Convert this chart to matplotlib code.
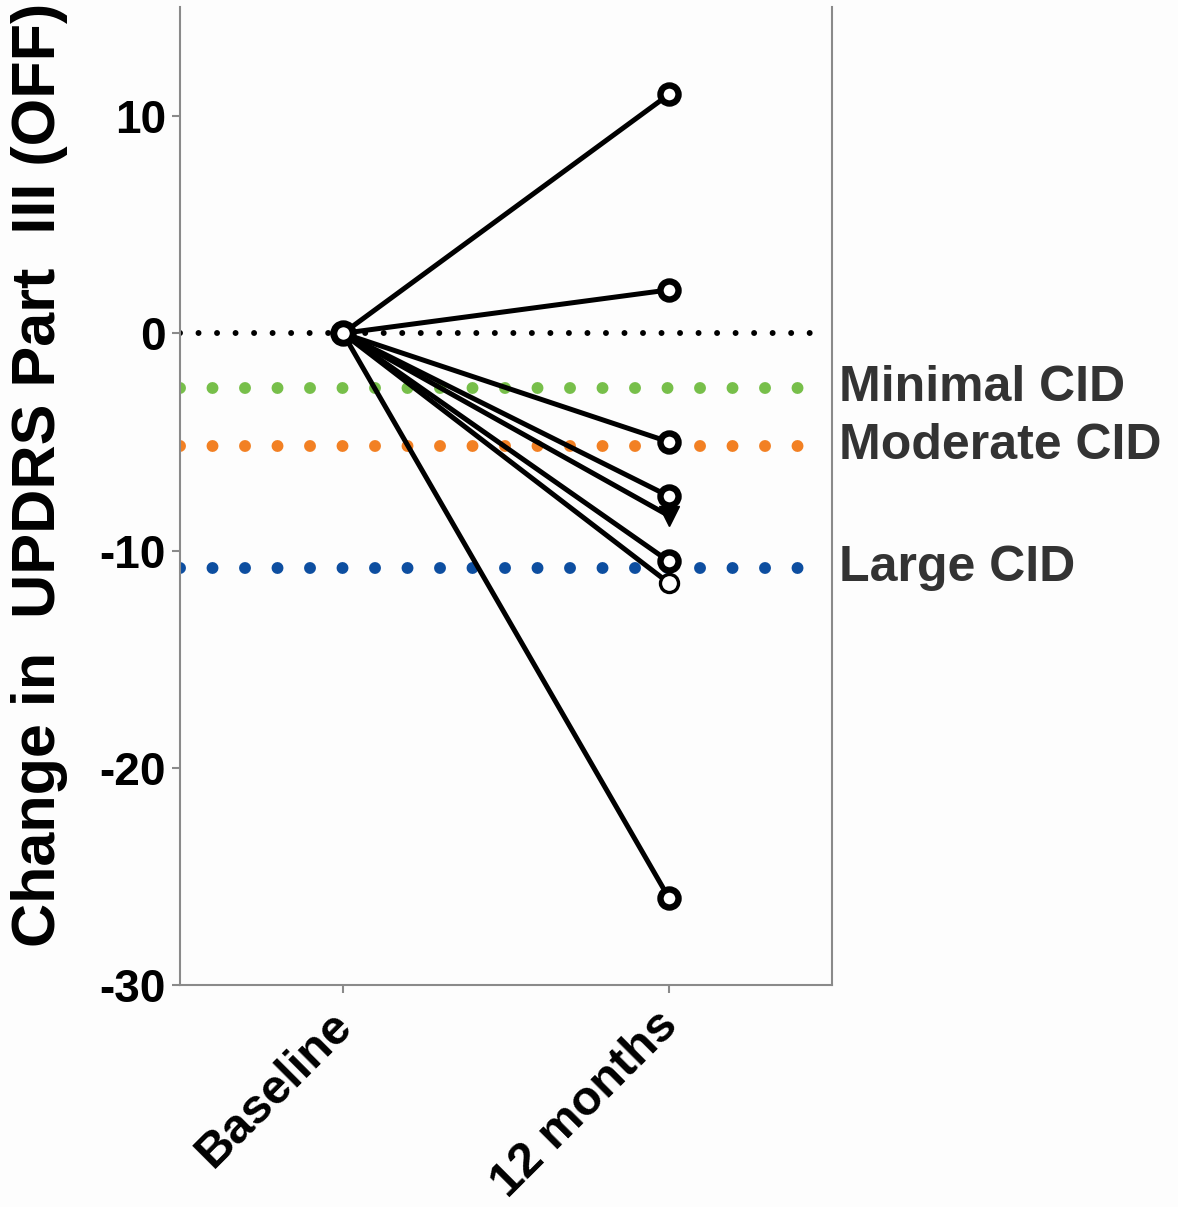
import matplotlib
matplotlib.use("Agg")
import matplotlib.pyplot as plt
from matplotlib.transforms import ScaledTranslation

plt.rcParams['font.family'] = ['Liberation Sans', 'DejaVu Sans']

# ---- data ----
timepoints = ["Baseline", "12 months"]
baseline_change = 0
patient_change_12m = [11, 2, -5, -7.5, -8.4, -10.5, -11.5, -26]
patient_marker = ["o", "o", "o", "o", "v", "o", "o_thin", "o"]
cid_labels = ["Minimal CID", "Moderate CID", "Large CID"]
cid_values = [-2.5, -5.2, -10.8]
cid_colors = ["#77bf4a", "#f28023", "#0d4ea0"]
yticks = [10, 0, -10, -20, -30]

fig = plt.figure(figsize=(11.78, 12.07), dpi=100)
fig.patch.set_facecolor("#fdfdfd")
ax = fig.add_axes([180/1178, 1-985/1207, (832-180)/1178, (985-7.5)/1207])
ax.set_facecolor("#fdfdfd")

ax.set_xlim(-0.5, 1.5)
ax.set_ylim(-30, 15)

# reference lines
ax.plot([-0.5, 1.46], [0, 0], color="black", lw=4.3,
        linestyle=(0, (0.001, 3.1)), dash_capstyle="round", zorder=1)
for val, col in zip(cid_values, cid_colors):
    ax.plot([-0.5, 1.42], [val, val], color=col, lw=8.6,
            linestyle=(0, (0.001, 2.72)), dash_capstyle="round", zorder=1)

# patient lines
for v, m in zip(patient_change_12m, patient_marker):
    ax.plot([0, 1], [baseline_change, v], color="black", lw=3.6, zorder=3,
            solid_capstyle="round")
    if m == "v":
        ax.plot([1], [v], marker="v", ms=14, color="black", zorder=4, clip_on=False)
    elif m == "o_thin":
        ax.plot([1], [v], marker="o", ms=13, mfc="white", mec="black", mew=2.4,
                zorder=4, clip_on=False)
    else:
        ax.plot([1], [v], marker="o", ms=13, mfc="white", mec="black", mew=4.6,
                zorder=5, clip_on=False)
ax.plot([0], [baseline_change], marker="o", ms=14, mfc="white", mec="black", mew=5,
        zorder=6, clip_on=False)

# CID labels
for lab, val in zip(cid_labels, cid_values):
    ax.text(1.523, val, lab, fontsize=36, fontweight="bold", color="#333333",
            ha="left", va="center", clip_on=False)

# axes styling
ax.spines["top"].set_visible(False)
for s in ["left", "right", "bottom"]:
    ax.spines[s].set_color("#8a8a8a")
    ax.spines[s].set_linewidth(1.5)
ax.set_yticks(yticks)
ax.set_yticklabels([str(t) for t in yticks], fontsize=33, fontweight="bold")
ax.set_xticks([0, 1])
ax.set_xticklabels(timepoints, fontsize=35, fontweight="bold", rotation=45,
                   ha="right", va="top", rotation_mode="anchor")
ax.tick_params(axis="both", color="#8a8a8a", width=1.5, length=6, pad=4)
ax.tick_params(axis="x", pad=8)
offset = ScaledTranslation(-14/100, 2/100, fig.dpi_scale_trans)
for lbl in ax.get_xticklabels():
    lbl.set_transform(lbl.get_transform() + offset)

fig.text(40/1178, 1-475/1207, "Change in  UPDRS Part  III (OFF)", rotation=90,
         fontsize=44, fontweight="bold", ha="center", va="center")

fig.savefig("out.png", dpi=100, facecolor=fig.get_facecolor())
